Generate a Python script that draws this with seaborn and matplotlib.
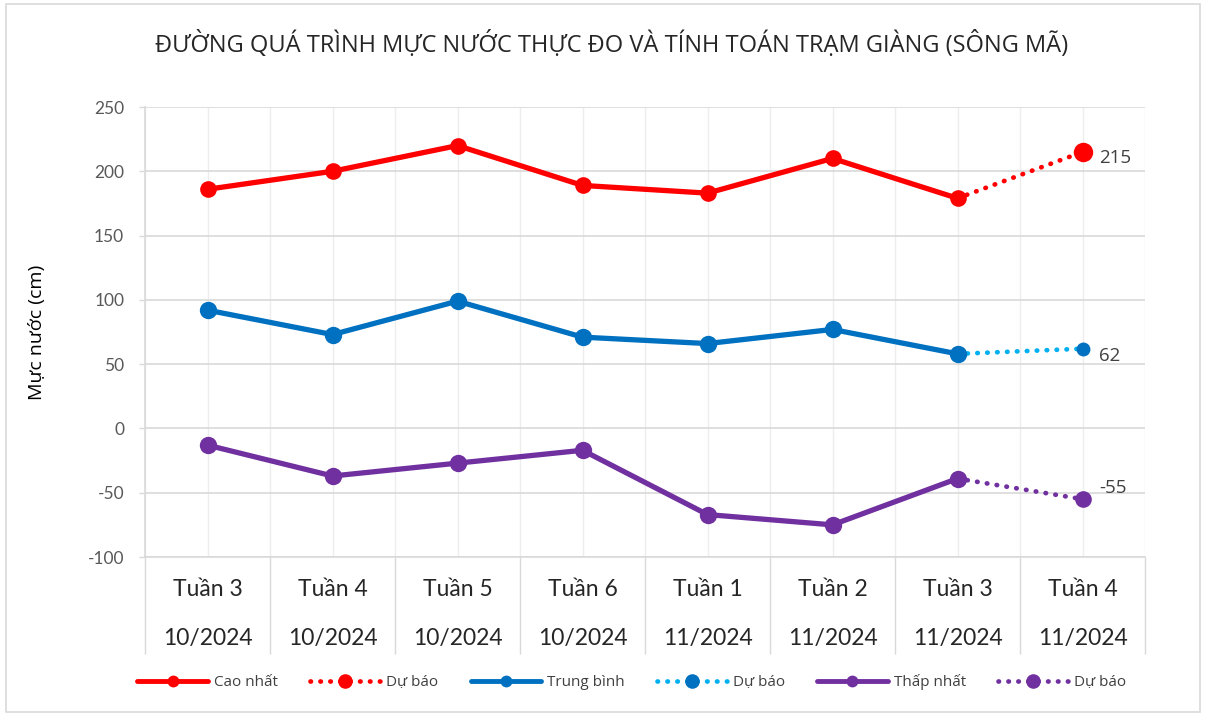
import matplotlib.pyplot as plt
from matplotlib.lines import Line2D
from matplotlib.patches import Rectangle
import numpy as np
import pandas as pd
import seaborn as sns

# data
weeks = ["Tuần 3", "Tuần 4", "Tuần 5", "Tuần 6", "Tuần 1", "Tuần 2", "Tuần 3", "Tuần 4"]
months = ["10/2024"] * 4 + ["11/2024"] * 4
cao_nhat = [186, 200, 220, 189, 183, 210, 179]
trung_binh = [92, 73, 99, 71, 66, 77, 58]
thap_nhat = [-13, -37, -27, -17, -67, -75, -39]
du_bao_cao = 215
du_bao_tb = 62
du_bao_thap = -55

sns.set_style("white")
plt.rcParams['font.family'] = ['Lato', 'Noto Sans', 'DejaVu Sans']
plt.rcParams['axes.unicode_minus'] = False

RED = "#ff0000"
BLUE = "#0070c0"
LBLUE = "#00b0f0"
PURPLE = "#7030a0"
GRID = "#d9d9d9"
DOT = (0, (0.1, 2.0))
OPEN = ['Open Sans', 'DejaVu Sans']

fig = plt.figure(figsize=(12.06, 7.16), dpi=100)
ax = fig.add_axes([145 / 1206, 1 - 557 / 716, 1000 / 1206, 450 / 716])

n = len(cao_nhat)
# values, forecast, line colour, forecast line colour, marker size, forecast marker size
series = [
    (cao_nhat, du_bao_cao, RED, RED, 12, 14),
    (trung_binh, du_bao_tb, BLUE, LBLUE, 12.5, 10),
    (thap_nhat, du_bao_thap, PURPLE, PURPLE, 12.5, 12),
]
for vals, fc, col, fcol, ms, fms in series:
    # forecast segment first so the measured marker sits on top
    sns.lineplot(x=[n - 1, n], y=[vals[-1], fc], color=fcol, lw=3.4, ls=DOT,
                 dash_capstyle='round', ax=ax)
    sns.lineplot(x=[n], y=[fc], color=col, lw=0, marker='o', markersize=fms,
                 markeredgewidth=0, ax=ax)
    df = pd.DataFrame({"x": np.arange(n), "y": vals})
    sns.lineplot(data=df, x="x", y="y", color=col, lw=3.8, marker='o',
                 markersize=ms, markeredgewidth=0, ax=ax)

# data labels on forecast points
lab_kw = dict(textcoords='offset points', ha='left', va='center', fontsize=13.5,
              color='#404040', family=OPEN)
ax.annotate(str(du_bao_cao), xy=(n, du_bao_cao), xytext=(12, -4), **lab_kw)
ax.annotate(str(du_bao_tb), xy=(n, du_bao_tb), xytext=(12, -5), **lab_kw)
ax.annotate(str(du_bao_thap), xy=(n, du_bao_thap), xytext=(12, 8), **lab_kw)

# axes
ax.set_ylim(-100, 250)
ax.set_yticks(np.arange(-100, 251, 50))
ax.set_xlim(-0.5, 7.5)
ax.set_xticks(range(8), weeks)
ax.set_xticks(np.arange(-0.5, 8, 1), minor=True)
ax.set_xlabel("")
ax.set_ylabel("Mực nước (cm)", fontsize=14, color='black', family=OPEN)
ax.yaxis.set_label_coords(-0.099, 0.5)

ax.grid(axis='y', which='major', color=GRID, lw=1.2)
ax.grid(axis='x', which='both', color='#ededed', lw=1.0)
ax.set_axisbelow(True)

ax.tick_params(axis='y', which='major', length=4, width=1, color=GRID, pad=11,
               labelsize=12.5, labelcolor='#595959', left=True)
ax.tick_params(axis='x', which='major', length=0, pad=16, labelsize=16.5, labelcolor='#262626')
ax.tick_params(axis='x', which='minor', length=70, width=1, color=GRID, bottom=True)

sec = ax.secondary_xaxis('bottom')
sec.set_xticks(range(8), months)
sec.tick_params(length=0, pad=51, labelsize=16.5, labelcolor='#262626')
for s in sec.spines.values():
    s.set_visible(False)

for side in ['top', 'right']:
    ax.spines[side].set_visible(False)
for side in ['left', 'bottom']:
    ax.spines[side].set_color(GRID)
    ax.spines[side].set_linewidth(1.2)

# title
fig.text(612 / 1206, 1 - 45 / 716,
         "ĐƯỜNG QUÁ TRÌNH MỰC NƯỚC THỰC ĐO VÀ TÍNH TOÁN TRẠM GIÀNG (SÔNG MÃ)",
         ha='center', va='center', fontsize=17, color='#262626', family=OPEN)

# legend
def solid(c):
    return Line2D([0], [0], color=c, lw=3.5, marker='o', markersize=8.5, markeredgewidth=0)


def dotted(lc, mc):
    return Line2D([0], [0], color=lc, lw=3.4, ls=DOT, dash_capstyle='round',
                  marker='o', markersize=10.5, markerfacecolor=mc, markeredgewidth=0)


handles = [solid(RED), dotted(RED, RED), solid(BLUE), dotted(LBLUE, BLUE),
           solid(PURPLE), dotted(PURPLE, PURPLE)]
labels = ["Cao nhất", "Dự báo", "Trung bình", "Dự báo", "Thấp nhất", "Dự báo"]
fig.legend(handles, labels, loc='center', bbox_to_anchor=(632 / 1206, 1 - 682 / 716),
           ncol=6, frameon=False, handlelength=4.6, handletextpad=0.4,
           columnspacing=2.1, labelcolor='#404040', prop={'family': OPEN, 'size': 11})

fig.patches.append(Rectangle((6 / 1206, 4 / 716), 1194 / 1206, 708 / 716, transform=fig.transFigure,
                             fill=False, ec=GRID, lw=1.2))

fig.savefig("out.png", dpi=100)
